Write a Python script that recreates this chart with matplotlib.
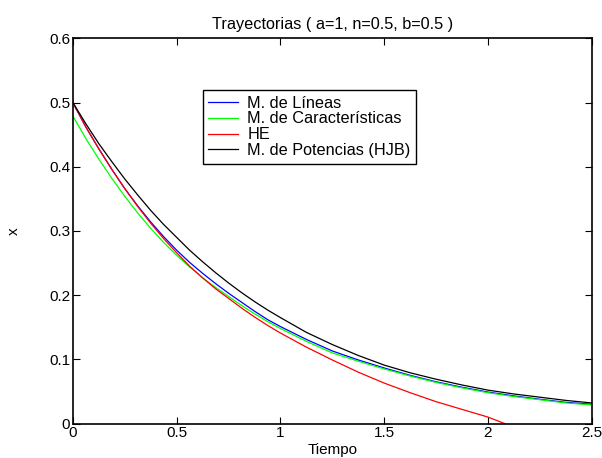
import numpy as np
import matplotlib
matplotlib.use("Agg")
import matplotlib.pyplot as plt

plt.rcParams['font.family'] = ['Liberation Sans', 'DejaVu Sans']

# values (finer steps where the curves bend most)
t = [0, 0.0625, 0.125, 0.1875, 0.25, 0.3125, 0.375, 0.4375, 0.5, 0.5625, 0.625,
     0.6875, 0.75, 0.8125, 0.875, 0.9375, 1.0, 1.125, 1.25, 1.375, 1.5, 1.625,
     1.75, 1.875, 2.0, 2.125, 2.25, 2.375, 2.5]
lineas = [0.500, 0.462, 0.428, 0.396, 0.366, 0.339, 0.314, 0.291, 0.270, 0.251, 0.234,
          0.218, 0.203, 0.189, 0.175, 0.162, 0.151, 0.131, 0.113, 0.099, 0.0865, 0.075,
          0.065, 0.0565, 0.049, 0.043, 0.0378, 0.033, 0.030]
caract = [0.479, 0.444, 0.412, 0.382, 0.354, 0.328, 0.304, 0.282, 0.262, 0.244, 0.227,
          0.212, 0.198, 0.184, 0.171, 0.159, 0.148, 0.128, 0.110, 0.097, 0.085, 0.074,
          0.064, 0.0555, 0.048, 0.042, 0.037, 0.032, 0.029]
potenc = [0.500, 0.467, 0.436, 0.408, 0.381, 0.356, 0.332, 0.310, 0.290, 0.270, 0.252,
          0.235, 0.219, 0.204, 0.190, 0.177, 0.165, 0.142, 0.123, 0.106, 0.091, 0.079,
          0.069, 0.060, 0.052, 0.046, 0.041, 0.036, 0.032]
t_he = [0, 0.0625, 0.125, 0.1875, 0.25, 0.3125, 0.375, 0.4375, 0.5, 0.5625, 0.625,
        0.6875, 0.75, 0.8125, 0.875, 0.9375, 1.0, 1.125, 1.25, 1.375, 1.5, 1.625,
        1.75, 1.875, 2.0, 2.08]
he = [0.500, 0.462, 0.428, 0.396, 0.366, 0.338, 0.312, 0.288, 0.266, 0.245, 0.227,
      0.210, 0.195, 0.180, 0.166, 0.153, 0.141, 0.119, 0.099, 0.080, 0.063, 0.048,
      0.034, 0.022, 0.010, 0.0]

xticks = [0, 0.5, 1, 1.5, 2, 2.5]
xticklabels = ['0', '0.5', '1', '1.5', '2', '2.5']
yticks = [0, 0.1, 0.2, 0.3, 0.4, 0.5, 0.6]
yticklabels = ['0', '0.1', '0.2', '0.3', '0.4', '0.5', '0.6']

fig = plt.figure(figsize=(6.02, 4.58), dpi=100)
ax = fig.add_axes([0.121, 0.0753, 0.862, 0.841])

ax.plot(t, lineas, color=(0, 0, 1), lw=0.9, label='M. de Líneas')
ax.plot(t, caract, color=(0, 1, 0), lw=0.9, label='M. de Características')
ax.plot(t_he, he, color=(1, 0, 0), lw=0.9, label='HE')
ax.plot(t, potenc, color='black', lw=0.9, label='M. de Potencias (HJB)')

ax.set_xlim(0, 2.5)
ax.set_ylim(0, 0.6)
ax.set_xticks(xticks)
ax.set_xticklabels(xticklabels)
ax.set_yticks(yticks)
ax.set_yticklabels(yticklabels)
ax.tick_params(direction='in', top=True, right=True, labelsize=11, length=5, width=0.8, pad=2)
for s in ax.spines.values():
    s.set_linewidth(1.2)

ax.set_xlabel('Tiempo', fontsize=11, labelpad=2)
ax.set_ylabel('x', fontsize=11, labelpad=20)
ax.set_title('Trayectorias ( a=1, n=0.5, b=0.5 )', fontsize=11.7, pad=7)

leg = ax.legend(loc='upper left', bbox_to_anchor=(0.25, 0.866), borderaxespad=0,
                fontsize=11.7, fancybox=False, framealpha=1, edgecolor='black',
                handlelength=1.8, labelspacing=0.05, borderpad=0.35, handletextpad=0.6)
leg.get_frame().set_linewidth(1.0)

fig.savefig('out.png', dpi=100)
